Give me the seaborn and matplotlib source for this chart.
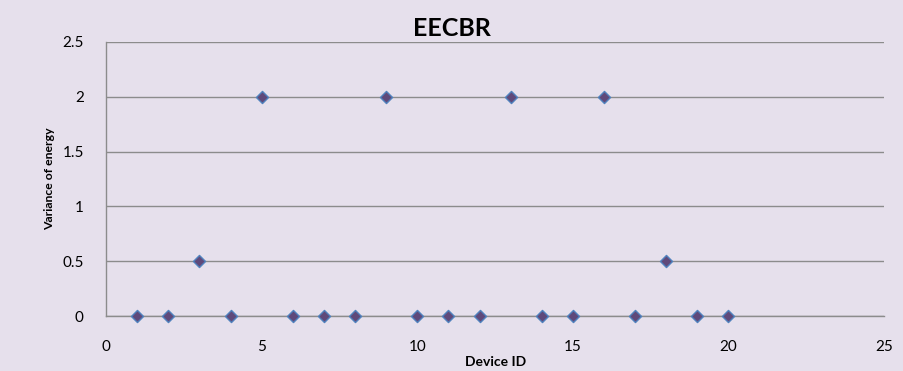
import seaborn as sns
import matplotlib.pyplot as plt
import pandas as pd

# device ids and variance values
device_id = list(range(1, 21))
variance = [0, 0, 0.5, 0, 2, 0, 0, 0, 2, 0, 0, 0, 2, 0, 0, 2, 0, 0.5, 0, 0]
x_ticks = [0, 5, 10, 15, 20, 25]
y_ticks = [0, 0.5, 1, 1.5, 2, 2.5]

df = pd.DataFrame({"Device ID": device_id, "Variance of energy": variance})

sns.set_style("white")
plt.rcParams['font.family'] = ['Lato', 'DejaVu Sans']

bg = "#E6E0EC"
fig = plt.figure(figsize=(9.04, 3.71), dpi=100, facecolor=bg)
ax = fig.add_axes([0.1173, 0.148, 0.8607, 0.739])
ax.set_facecolor(bg)

sns.scatterplot(data=df, x="Device ID", y="Variance of energy", ax=ax,
                marker="D", s=38, color="#5F497A", edgecolor="#4F81BD",
                linewidth=1.0, zorder=3, clip_on=False)

ax.set_xlim(0, 25)
ax.set_ylim(0, 2.5)
ax.set_xticks(x_ticks)
ax.set_yticks(y_ticks)
ax.set_xticklabels([str(t) for t in x_ticks])
ax.set_yticklabels(["0", "0.5", "1", "1.5", "2", "2.5"])
ax.yaxis.grid(True, color="#8C8C8C", linewidth=1.0)
ax.set_axisbelow(True)

for s in ["top", "right"]:
    ax.spines[s].set_visible(False)
for s in ["left", "bottom"]:
    ax.spines[s].set_color("#8C8C8C")
    ax.spines[s].set_linewidth(1.0)

ax.tick_params(axis="both", direction="out", length=5, width=1, color="#8C8C8C",
               labelsize=11, labelcolor="black")
ax.tick_params(axis="x", pad=12)
ax.tick_params(axis="y", pad=11)

ax.set_xlabel("Device ID", fontsize=10, fontweight="bold", labelpad=2, color="black")
ax.set_ylabel("Variance of energy", fontsize=8.8, fontweight="bold", labelpad=5, color="black")
fig.text(0.5, 0.922, "EECBR", fontsize=18, fontweight="bold", ha="center", va="center",
         color="black")

fig.savefig("out.png", dpi=100, facecolor=bg)
